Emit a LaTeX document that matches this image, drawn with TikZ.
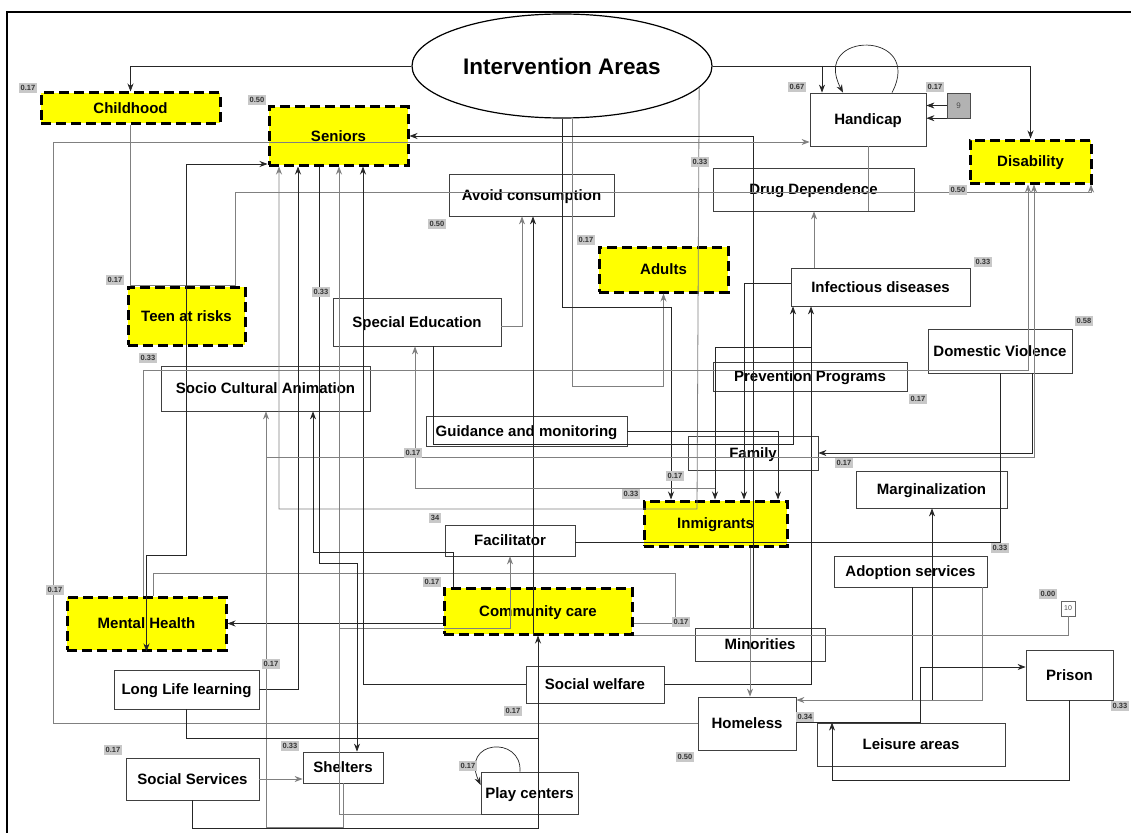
\documentclass[tikz,border=0pt]{standalone}
\usepackage{fontspec}
\setmainfont{Liberation Sans}
\usetikzlibrary{arrows.meta,shapes.geometric}
\definecolor{areayellow}{RGB}{255,255,0}
\definecolor{linegray}{RGB}{128,128,128}
\definecolor{wgray}{RGB}{200,200,200}

\begin{document}
\begin{tikzpicture}[x=1pt, y=-1pt,
        area/.style={draw=black, line width=3pt, dash pattern=on 10pt off 5pt, fill=areayellow, font=\fontsize{15}{17}\selectfont\bfseries, inner sep=0pt, text height=10.7pt, text depth=0pt},
        box/.style={draw=black!75, line width=0.8pt, fill=white, font=\fontsize{15}{17}\selectfont\bfseries, inner sep=0pt, text height=10.7pt, text depth=0pt},
        wt/.style={fill=wgray, font=\fontsize{7.5}{8}\selectfont\bfseries, text=black!80, inner xsep=1.5pt, inner ysep=2.2pt},
        ln/.style={draw=black!85, line width=0.7pt},
        gl/.style={draw=linegray, line width=0.8pt},
        arr/.style={-{Stealth[length=8pt,width=6pt]}},
        arrs/.style={{Stealth[length=8pt,width=6pt]}-{Stealth[length=8pt,width=6pt]}}
    ]
        \clip (0,0) rectangle (1131,832);
        \fill[white] (0,0) rectangle (1131,832);
        \draw[line width=2pt] (7,12) rectangle (1150,850);

        \node[ellipse, draw, line width=1.2pt, fill=white, minimum width=300pt, minimum height=104pt, inner sep=0pt, font=\fontsize{22.5}{26}\selectfont\bfseries] (ia) at (562,66) {Intervention Areas};
        \node[area, minimum width=179pt, minimum height=30pt] (child) at (130.5,108) {Childhood};
        \node[area, minimum width=139pt, minimum height=58pt] (sen) at (338.5,136) {Seniors};
        \node[box, minimum width=116pt, minimum height=53pt] (hand) at (868,119.5) {Handicap};
        \node[draw=black!70, fill=black!30, minimum width=23pt, minimum height=25pt, inner sep=0pt, font=\fontsize{8}{9}\selectfont, text=black!70] (nine) at (958.5,105.5) {9};
        \node[area, minimum width=121pt, minimum height=43pt] (dis) at (1030.5,161.5) {Disability};
        \node[box, minimum width=201pt, minimum height=43pt] (drug) at (813.5,189.5) {Drug Dependence};
        \node[box, minimum width=165pt, minimum height=42pt] (avoid) at (531.5,195) {Avoid consumption};
        \node[area, minimum width=129pt, minimum height=45pt] (adults) at (663.5,269.5) {Adults};
        \node[area, minimum width=117pt, minimum height=58pt] (teen) at (186.5,316) {Teen at risks};
        \node[box, minimum width=168pt, minimum height=48pt] (spec) at (417,322) {Special Education};
        \node[box, minimum width=179pt, minimum height=38pt] (infec) at (880.5,287) {Infectious diseases};
        \node[box, minimum width=144pt, minimum height=44pt] (dom) at (1000,351) {Domestic Violence};
        \node[box, minimum width=194pt, minimum height=29pt] (prev) at (810,376.5) {Prevention Programs};
        \node[box, minimum width=209pt, minimum height=45pt] (socio) at (265.5,388.5) {Socio Cultural Animation};
        \node[box, minimum width=201pt, minimum height=30pt] (guid) at (526.5,431) {Guidance and monitoring};
        \node[box, minimum width=130pt, minimum height=34pt] (fam) at (753,453) {Family};
        \node[area, minimum width=143pt, minimum height=45pt] (inm) at (715.5,523.5) {Inmigrants};
        \node[box, minimum width=151pt, minimum height=37pt] (marg) at (931.5,489.5) {Marginalization};
        \node[box, minimum width=130pt, minimum height=31pt] (facil) at (510,540.5) {Facilitator};
        \node[box, minimum width=153pt, minimum height=31pt] (adopt) at (910.5,571.5) {Adoption services};
        \node[draw=black!60, fill=white, minimum width=14pt, minimum height=15pt, inner sep=0pt, font=\fontsize{7}{8}\selectfont, text=black!70] (ten) at (1068,608.5) {10};
        \node[area, minimum width=159pt, minimum height=53pt] (mental) at (146.5,623.5) {Mental Health};
        \node[area, minimum width=188pt, minimum height=46pt] (comm) at (538,611) {Community care};
        \node[box, minimum width=130pt, minimum height=33pt] (minor) at (760,644.5) {Minorities};
        \node[box, minimum width=145pt, minimum height=39pt] (lll) at (186.5,689.5) {Long Life learning};
        \node[box, minimum width=138pt, minimum height=37pt] (welf) at (595,684.5) {Social welfare};
        \node[box, minimum width=98pt, minimum height=53pt] (homel) at (747,723.5) {Homeless};
        \node[box, minimum width=87pt, minimum height=50pt] (prison) at (1069.5,675) {Prison};
        \node[box, minimum width=188pt, minimum height=43pt] (leis) at (911,744.5) {Leisure areas};
        \node[box, minimum width=133pt, minimum height=42pt] (socs) at (192.5,779) {Social Services};
        \node[box, minimum width=80pt, minimum height=31pt] (shelt) at (343,767.5) {Shelters};
        \node[box, minimum width=97pt, minimum height=42pt] (play) at (529.5,793) {Play centers};

        \draw[ln,arr] (ia.west) -| (child.north);
        \draw[ln,arr] (ia.east) -| (dis.north);
        \draw[ln,arr] (ia.east -| 822,0) -- (hand.north -| 822,0);
        \draw[ln,arr] (hand.north -| 892,0) .. controls (925,30) and (810,30) .. (hand.north -| 843,0);
        \draw[ln,arr] (nine.west) -- (hand.east |- nine.west);
        \draw[ln,arr] (nine.south west) -- (hand.east |- nine.south west);
        \draw[gl,arr] (ia.-9.5) -- (697,509) -| (sen.south -| 279,0);
        \draw[gl,arr] (ia.south -| 572,0) |- (adults.south |- 0,386) -- (adults.south);
        \draw[ln,arr] (ia.south -| 562,0) |- (671,307) -- (inm.north -| 671,0);
        \draw[ln,arr] (minor.north -| 753,0) |- (sen.east);
        \draw[gl,arr] (homel.west) -| (53,142) -- (hand.west |- 0,142);
        \draw[gl,arr] (child.south) |- (235,285) |- (1091,192) -- (1091,0 |- dis.south);
        \draw[ln,arrs] (mental.south) -- (mental.south |- 0,555) -| (186,164) -- (sen.west |- 0,164);
        \draw[gl,arr] (mental.north -| 143,0) |- (1028,370) -- (dis.south -| 1028,0);
        \draw[gl] (mental.north -| 153,0) |- (675,573) |- (comm.east |- 0,623);
        \draw[ln,arr] (comm.west |- mental.east) -- (mental.east);
        \draw[gl,arr] (play.south west) -| (sen.south -| 339,0);
        \draw[gl,arr] (339,628) -| (facil.south);
        \draw[ln,arr] (lll.east) -| (sen.south -| 298,0);
        \draw[ln,arr] (sen.south -| 319,0) |- (357,563) -- (shelt.north -| 357,0);
        \draw[ln,arr] (welf.west) -| (sen.south -| 363,0);
        \draw[ln,arr] (welf.east) -| (infec.south -| 811,0);
        \draw[ln,arr] (811,347) -| (inm.north -| 715,0);
        \draw[gl,arr] (spec.east |- 0,326) -| (avoid.south -| 522,0);
        \draw[ln,arr] (comm.south -| 533,0) -- (avoid.south -| 533,0);
        \draw[ln,arr] (spec.south -| 433,0) |- (793,444) -- (infec.south -| 793,0);
        \draw[gl,arr] (715,488) -| (spec.south -| 415,0);
        \draw[ln,arr] (guid.east) -| (inm.north -| 778,0);
        \draw[ln,arr] (infec.west |- 0,283) -| (inm.north -| 744,0);
        \draw[gl,arr] (infec.north -| 814,0) -- (drug.south -| 814,0);
        \draw[gl] (hand.south) -- (drug.south -| hand.south);
        \draw[ln,arr] (dom.south -| 1032,0) |- (fam.east);
        \draw[gl,arr] (shelt.south) |- (266,827) -- (socio.south -| 266,0);
        \draw[gl,arr] (266,457) -| (dis.south -| 1034,0);
        \draw[ln,arr] (comm.north -| 453,0) |- (313,552) -- (socio.south -| 313,0);
        \draw[ln] (dom.south) |- (facil.east |- 0,542);
        \draw[ln,arr] (adopt.south -| 912,0) |- (932,700) -- (marg.south -| 932,0);
        \draw[gl,arr] (adopt.south -| 982,0) |- (homel.east |- 0,700);
        \draw[ln,arr] (homel.east |- 0,722) -| (920,667) -- (prison.west |- 0,667);
        \draw[ln,arr] (prison.south) |- (832,780) -- (leis.north -| 832,0);
        \draw[gl] (ten.south) |- (comm.south east);
        \draw[gl,arr] (inm.south -| 750,0) -- (homel.north -| 750,0);
        \draw[ln,arr] (lll.south) |- (538,738) -- (comm.south);
        \draw[ln] (socs.south) |- (538,828) -- (538,738);
        \draw[gl,arr] (socs.east) -- (shelt.west |- socs.east);
        \draw[ln,arr] (play.north -| 520,0) .. controls (522,735) and (460,740) .. (play.west |- 0,785);

        \node[wt] (w-child) at (28,88) {0.17};
        \node[wt] (w-sen) at (257,100) {0.50};
        \node[wt] (w-hand) at (797,87) {0.67};
        \node[wt] (w-nine) at (935,87) {0.17};
        \node[wt] (w-dis) at (958,190) {0.50};
        \node[wt] (w-drug) at (700,162) {0.33};
        \node[wt] (w-avoid) at (437,224) {0.50};
        \node[wt] (w-adults) at (586,240) {0.17};
        \node[wt] (w-teen) at (115,280) {0.17};
        \node[wt] (w-spec) at (321,292) {0.33};
        \node[wt] (w-socio) at (148,358) {0.33};
        \node[wt] (w-infec) at (983,262) {0.33};
        \node[wt] (w-dom) at (1084,321) {0.58};
        \node[wt] (w-prev) at (918,399) {0.17};
        \node[wt] (w-guid) at (413,453) {0.17};
        \node[wt] (w-fam) at (844,463) {0.17};
        \node[wt] (w-inm) at (675,476) {0.17};
        \node[wt] (w-inm2) at (631,494) {0.33};
        \node[wt] (w-facil) at (435,518) {34};
        \node[wt] (w-marg) at (1000,548) {0.33};
        \node[wt] (w-ten) at (1048,594) {0.00};
        \node[wt] (w-mental) at (55,590) {0.17};
        \node[wt] (w-comm) at (432,582) {0.17};
        \node[wt] (w-minor) at (681,622) {0.17};
        \node[wt] (w-lll) at (271,664) {0.17};
        \node[wt] (w-welf) at (513,711) {0.17};
        \node[wt] (w-homel) at (685,757) {0.50};
        \node[wt] (w-leis) at (805,717) {0.34};
        \node[wt] (w-prison) at (1120,706) {0.33};
        \node[wt] (w-socs) at (113,750) {0.17};
        \node[wt] (w-shelt) at (290,746) {0.33};
        \node[wt] (w-play) at (468,766) {0.17};
    \end{tikzpicture}
\end{document}
